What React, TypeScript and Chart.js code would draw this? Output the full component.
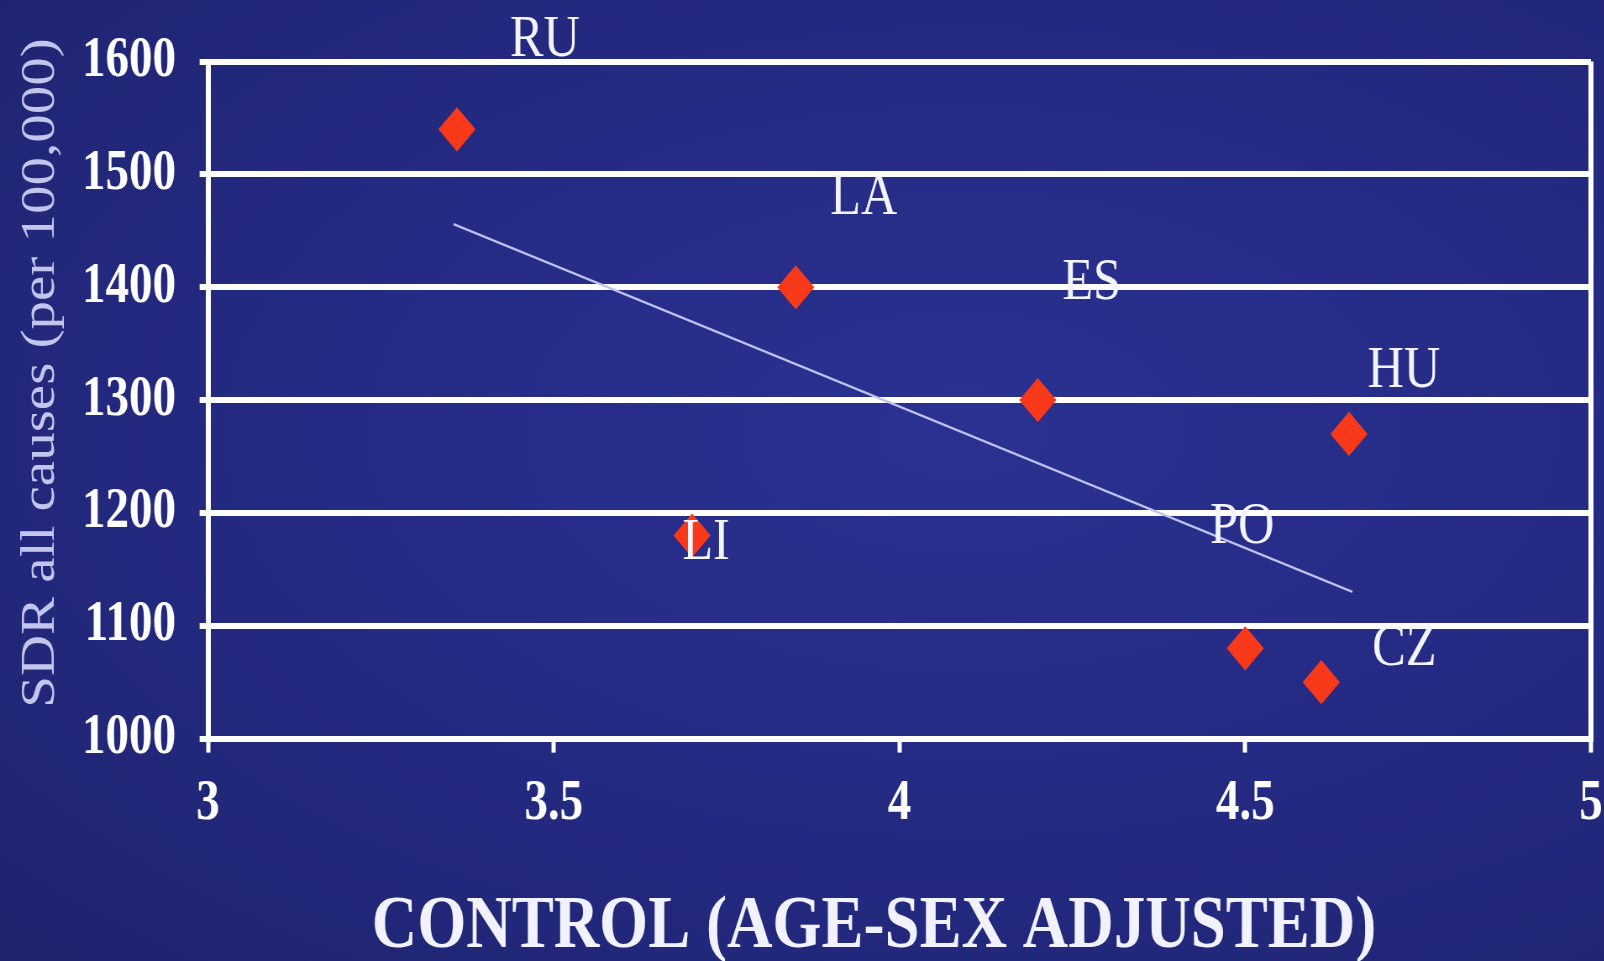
import { useEffect, useRef } from "react";
import { Chart, registerables, type Plugin } from "chart.js";

Chart.register(...registerables);

// the slide is squeezed horizontally, so the whole chart is drawn wider and scaled back
const SQUEEZE = 0.84;
const PAGE_W = 1604;
const PAGE_H = 961;

const countries = ["RU", "LA", "ES", "HU", "LI", "PO", "CZ"];
const controlScores = [3.36, 3.85, 4.2, 4.65, 3.7, 4.5, 4.61];
const sdrValues = [1540, 1400, 1300, 1270, 1180, 1080, 1050];

const trendX = [3.355, 4.655];
const trendY = [1456, 1130];

const xMin = 3;
const xMax = 5;
const xStep = 0.5;
const yMin = 1000;
const yMax = 1600;
const yStep = 100;

const xTitle = "CONTROL (AGE-SEX ADJUSTED)";
const yTitle = "SDR all causes (per 100,000)";

// label position relative to its point, in page pixels
const labelOffsets: [number, number][] = [
  [88, -89],
  [68, -89],
  [54, -117],
  [55, -63],
  [14, 8],
  [-3, -121],
  [83, -33],
];

const SERIF = '"Liberation Serif", "DejaVu Serif", serif';

const pointLabels: Plugin = {
  id: "pointLabels",
  afterDatasetsDraw(chart) {
    const { ctx } = chart;
    const meta = chart.getDatasetMeta(1);
    ctx.save();
    ctx.font = `normal 60px ${SERIF}`;
    ctx.fillStyle = "#f4f4ff";
    ctx.textAlign = "center";
    ctx.textBaseline = "middle";
    meta.data.forEach((pt, i) => {
      const [dx, dy] = labelOffsets[i];
      ctx.fillText(countries[i], pt.x + dx / SQUEEZE, pt.y + dy);
    });
    ctx.restore();
  },
};

const axisTitles: Plugin = {
  id: "axisTitles",
  afterDraw(chart) {
    const { ctx } = chart;
    ctx.save();
    ctx.textAlign = "center";
    ctx.textBaseline = "middle";

    ctx.font = `bold 75px ${SERIF}`;
    ctx.fillStyle = "#f2f2ff";
    ctx.fillText(xTitle, 874 / SQUEEZE, 928);

    ctx.translate(41 / SQUEEZE, 373);
    ctx.rotate(-Math.PI / 2);
    ctx.font = `normal 57px ${SERIF}`;
    ctx.fillStyle = "#c3c6ec";
    ctx.fillText(yTitle, 0, 0);
    ctx.restore();
  },
};

const left = 208 / SQUEEZE;
const right = 1591 / SQUEEZE;
const rightPad = 32;
const innerW = right + rightPad;
const top = 61.4;
const bottom = 738.6;

export default function App() {
  const canvasRef = useRef<HTMLCanvasElement | null>(null);
  const chartRef = useRef<Chart | null>(null);

  useEffect(() => {
    if (!canvasRef.current) return;
    if (chartRef.current) chartRef.current.destroy();

    chartRef.current = new Chart(canvasRef.current, {
      type: "scatter",
      data: {
        datasets: [
          {
            type: "line",
            label: "Trend",
            data: trendX.map((x, i) => ({ x, y: trendY[i] })),
            borderColor: "#bfc2ee",
            borderWidth: 2.5,
            pointRadius: 0,
            fill: false,
          },
          {
            label: "SDR",
            data: controlScores.map((x, i) => ({ x, y: sdrValues[i] })),
            pointStyle: "rectRot",
            pointRadius: 20,
            pointBackgroundColor: "#f83a1a",
            pointBorderColor: "#f83a1a",
            pointBorderWidth: 3,
          },
        ],
      },
      options: {
        animation: false,
        responsive: true,
        maintainAspectRatio: false,
        layout: { padding: { top, right: rightPad, bottom: 0, left: 0 } },
        plugins: { legend: { display: false }, tooltip: { enabled: false } },
        scales: {
          x: {
            type: "linear",
            min: xMin,
            max: xMax,
            ticks: {
              stepSize: xStep,
              color: "#ffffff",
              padding: 18,
              font: { family: SERIF, size: 56, weight: "bold" },
              callback: (v: any) => String(v),
            },
            grid: {
              drawOnChartArea: true,
              color: (c: any) => (c.tick && c.tick.value === xMax ? "#ffffff" : "rgba(0,0,0,0)"),
              lineWidth: 6,
              tickColor: "#ffffff",
              tickLength: 14,
              tickWidth: 5,
            },
            border: { color: "#ffffff", width: 6 },
            afterFit: (scale: any) => {
              scale.height = PAGE_H - bottom;
            },
          },
          y: {
            min: yMin,
            max: yMax,
            ticks: {
              stepSize: yStep,
              color: "#ffffff",
              padding: 28,
              font: { family: SERIF, size: 56, weight: "bold" },
              callback: (v: any) => String(v),
            },
            grid: {
              color: "#ffffff",
              lineWidth: 6,
              tickLength: 10,
            },
            border: { color: "#ffffff", width: 6 },
            afterFit: (scale: any) => {
              scale.width = left;
            },
          },
        },
      },
      plugins: [pointLabels, axisTitles],
    });

    return () => {
      chartRef.current?.destroy();
      chartRef.current = null;
    };
  }, []);

  return (
    <div
      style={{
        position: "fixed",
        left: 0,
        top: 0,
        width: PAGE_W,
        height: PAGE_H,
        overflow: "hidden",
        background:
          "radial-gradient(ellipse at 60% 45%, #2a3190 0%, #252b84 45%, #1e236f 100%)",
      }}
    >
      <div
        style={{
          width: innerW,
          height: PAGE_H,
          transform: `scaleX(${SQUEEZE})`,
          transformOrigin: "0 0",
          position: "relative",
        }}
      >
        <canvas ref={canvasRef} />
      </div>
    </div>
  );
}
